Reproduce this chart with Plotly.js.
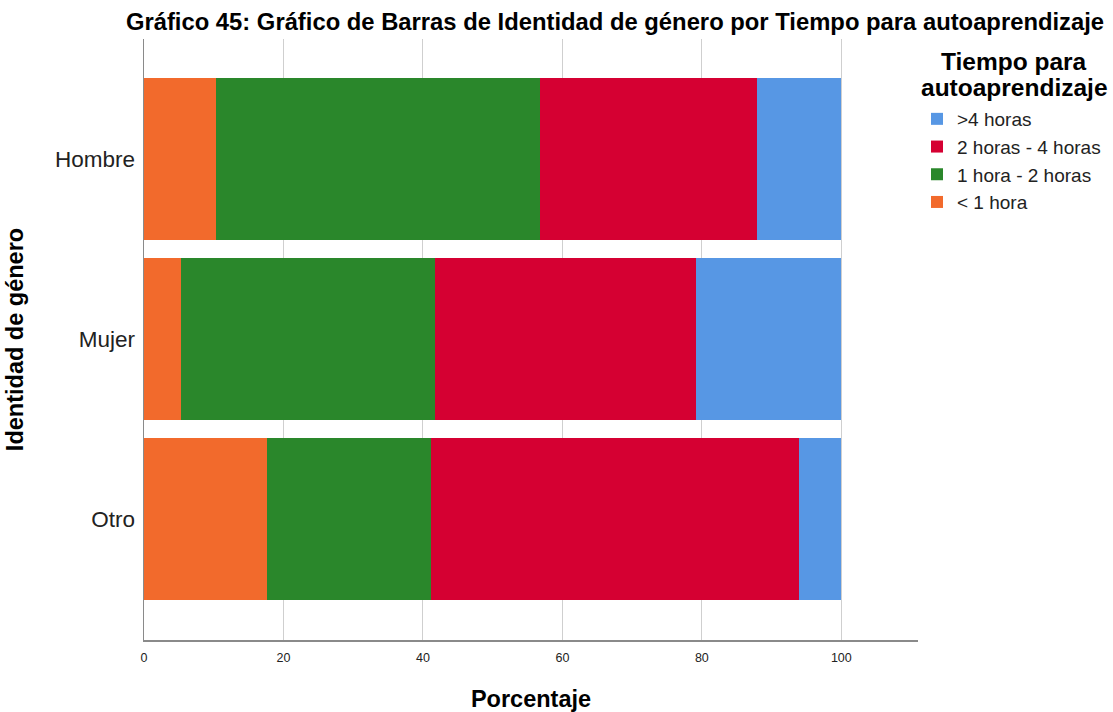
<!DOCTYPE html>
<html>
<head>
<meta charset="utf-8">
<script src="https://cdn.plot.ly/plotly-3.0.1.min.js"></script>
<style>html,body{margin:0;padding:0;background:#fff;}#chart{width:1113px;height:712px;}</style>
</head>
<body>
<div id="chart"></div>
<script>
const categories = ["Hombre", "Mujer", "Otro"];
const seriesNames = ["< 1 hora", "1 hora - 2 horas", "2 horas - 4 horas", ">4 horas"];
const menos1 = [10.3, 5.3, 17.6];
const de1a2 = [46.5, 36.5, 23.5];
const de2a4 = [31.1, 37.4, 52.9];
const mas4 = [12.1, 20.8, 5.9];
const xTicks = [0, 20, 40, 60, 80, 100];
const legendTitleLines = ["Tiempo para", "autoaprendizaje"];
const colors = ["#f26a2c", "#2a872b", "#d50032", "#5797e4"];

const seriesValues = [menos1, de1a2, de2a4, mas4];
const traces = seriesValues.map((vals, i) => ({
  type: "bar",
  orientation: "h",
  name: seriesNames[i],
  y: categories,
  x: vals,
  width: 0.9,
  marker: {color: colors[i], line: {width: 0}},
  hoverinfo: "x+y+name"
}));

const W = 1113, H = 712;
const plotL = 144, plotR = 918, plotT = 39, plotB = 640;
const titleLineY = [62, 87];
const layout = {
  width: W, height: H,
  paper_bgcolor: "#fff", plot_bgcolor: "#fff",
  barmode: "stack",
  margin: {l: plotL, r: W - plotR, t: plotT, b: H - plotB, autoexpand: false},
  font: {family: "Liberation Sans, Arial, sans-serif", color: "#000"},
  title: {
    text: "<b>Gráfico 45: Gráfico de Barras de Identidad de género por Tiempo para autoaprendizaje</b>",
    font: {size: 23.8, color: "#000"},
    x: 615 / W, xref: "container", xanchor: "center",
    y: 1 - 22 / H, yref: "container", yanchor: "middle"
  },
  xaxis: {
    range: [0, 111],
    tickvals: xTicks,
    ticktext: xTicks.map(String),
    tickfont: {size: 12.5, color: "#222"},
    showgrid: true, gridcolor: "#cfcfcf", gridwidth: 1,
    showline: true, linecolor: "#8a8a8a", linewidth: 1.5,
    zeroline: false, ticks: "outside", ticklen: 5, tickcolor: "rgba(0,0,0,0)",
    title: {text: "<b>Porcentaje</b>", font: {size: 23.5, color: "#000"}, standoff: 28},
    automargin: false, fixedrange: true
  },
  yaxis: {
    categoryorder: "array",
    categoryarray: categories.slice().reverse(),
    range: [-0.67, 2.667],
    tickfont: {size: 22.5, color: "#222"},
    showgrid: false,
    showline: true, linecolor: "#8a8a8a", linewidth: 1.5,
    zeroline: false, ticks: "outside", ticklen: 3, tickcolor: "rgba(0,0,0,0)",
    title: {text: "<b>Identidad de género</b>", font: {size: 23.5, color: "#000"}, standoff: 24},
    automargin: false, fixedrange: true
  },
  showlegend: true,
  legend: {
    traceorder: "reversed",
    x: 917 / W, xref: "container", xanchor: "left",
    y: 1 - 100 / H, yref: "container", yanchor: "top",
    font: {size: 19, color: "#222"},
    bgcolor: "rgba(0,0,0,0)",
    itemwidth: 30,
    tracegroupgap: 0
  },
  annotations: legendTitleLines.map((t, i) => ({
    text: "<b>" + t + "</b>",
    xref: "paper", yref: "paper",
    x: (1014 - plotL) / (plotR - plotL),
    y: (plotB - titleLineY[i]) / (plotB - plotT),
    xanchor: "center", yanchor: "middle",
    showarrow: false,
    font: {size: 24.5, color: "#000"},
    align: "center"
  }))
};

Plotly.newPlot("chart", traces, layout, {displayModeBar: false, staticPlot: true});
</script>
</body>
</html>
